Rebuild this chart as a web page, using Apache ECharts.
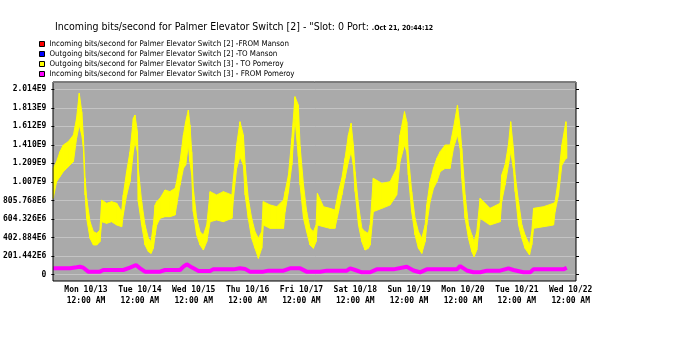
<!DOCTYPE html>
<html><head><meta charset="utf-8">
<script src="https://cdn.jsdelivr.net/npm/echarts@6/dist/echarts.min.js"></script>
<style>html,body{margin:0;padding:0;background:#fff}#c{width:686px;height:363px}</style>
</head><body><div id="c"></div>
<script>
// ---- text ----
const titleText = 'Incoming bits/second for Palmer Elevator Switch [2] - "Slot: 0 Port: ';
const titleDate = '.Oct 21, 20:44:12';
const seriesNames = [
  'Incoming bits/second for Palmer Elevator Switch [2] -FROM Manson',
  'Outgoing bits/second for Palmer Elevator Switch [2] -TO Manson',
  'Outgoing bits/second for Palmer Elevator Switch [3] - TO Pomeroy',
  'Incoming bits/second for Palmer Elevator Switch [3] - FROM Pomeroy'
];
const seriesColors = ['#ff0000', '#0000ff', '#ffff00', '#ff00ff'];

// ---- axes (values in millions of bits/second, x in hours from Mon 10/13 00:00) ----
const yTickStep = 201.442;
const yTickMax = 2014.42;
const yTickLabels = ['0', '201.442E6', '402.884E6', '604.326E6', '805.768E6', '1.007E9', '1.209E9', '1.410E9', '1.612E9', '1.813E9', '2.014E9'];
const xTickStepHours = 24;
const xTickMaxHours = 216;
const xTickLabels = ['Mon 10/13\n12:00 AM', 'Tue 10/14\n12:00 AM', 'Wed 10/15\n12:00 AM', 'Thu 10/16\n12:00 AM', 'Fri 10/17\n12:00 AM', 'Sat 10/18\n12:00 AM', 'Sun 10/19\n12:00 AM', 'Mon 10/20\n12:00 AM', 'Tue 10/21\n12:00 AM', 'Wed 10/22\n12:00 AM'];
const xViewMin = -14.7, xViewMax = 218.3;
const yViewMin = -69.6, yViewMax = 2093.8;

// ---- Outgoing [3] TO Pomeroy: envelope of the noisy trace ----
const pomeroyOutHours = [-14.6, -13.1, -11.6, -10.1, -7.9, -5.6, -4.2, -3.0, -1.9, -1.2,
  -0.4, 0.3, 1.8, 3.3, 4.8, 6.2, 7.0, 9.2, 11.4, 13.7,
  15.9, 16.6, 18.1, 19.6, 21.1, 21.8, 22.9, 23.3, 24.8, 26.3,
  27.8, 29.0, 30.0, 30.8, 31.5, 33.0, 35.2, 37.4, 39.7, 40.4,
  41.9, 43.4, 44.4, 45.6, 46.3, 47.1, 47.8, 49.3, 50.8, 52.3,
  53.8, 55.3, 58.2, 61.2, 65.0, 65.7, 67.1, 68.6, 70.1, 70.9,
  72.3, 73.8, 75.3, 76.8, 78.3, 79.0, 82.0, 85.0, 88.0, 88.7,
  90.2, 91.7, 93.1, 94.6, 95.4, 96.9, 98.3, 99.8, 101.3, 102.5,
  103.1, 105.8, 108.7, 110.9, 112.5, 114.0, 115.4, 116.9, 118.1, 119.1,
  119.9, 121.4, 122.9, 124.3, 125.8, 126.6, 128.0, 131.8, 135.5, 138.4,
  139.9, 141.9, 142.9, 143.6, 145.1, 146.6, 148.1, 149.6, 151.1, 151.8,
  153.3, 154.8, 156.3, 157.8, 160.0, 162.2, 163.7, 165.5, 166.7, 167.4,
  168.9, 170.4, 171.9, 172.9, 174.1, 175.6, 180.0, 184.5, 185.2, 186.7,
  188.2, 189.2, 190.4, 191.2, 192.7, 194.2, 195.6, 197.6, 198.6, 199.4,
  203.8, 208.3, 209.0, 210.5, 212.0, 213.8, 214.2];
const pomeroyOutHigh = [1155, 1228, 1336, 1409, 1445, 1518, 1699, 1971, 1771, 1518,
  1047, 829, 575, 467, 449, 485, 811, 775, 793, 775,
  684, 865, 1119, 1336, 1699, 1735, 1554, 1155, 793, 539,
  394, 358, 539, 757, 793, 829, 920, 902, 938, 1010,
  1228, 1518, 1662, 1789, 1626, 1336, 938, 612, 467, 430,
  539, 902, 865, 902, 865, 1047, 1409, 1662, 1518, 1191,
  829, 612, 467, 394, 467, 793, 757, 738, 811, 902,
  1083, 1481, 1934, 1843, 1391, 974, 684, 503, 467, 539,
  883, 738, 720, 702, 902, 1047, 1264, 1518, 1644, 1409,
  1119, 757, 503, 467, 449, 539, 1047, 992, 1010, 1155,
  1518, 1771, 1662, 1300, 902, 612, 467, 394, 539, 757,
  1010, 1155, 1264, 1336, 1409, 1409, 1590, 1843, 1590, 1373,
  865, 539, 430, 358, 467, 829, 720, 775, 1083, 1191,
  1409, 1662, 1373, 1083, 793, 539, 430, 322, 467, 720,
  738, 775, 793, 1047, 1409, 1662, 1445];
const pomeroyOutLow = [829, 1010, 1065, 1119, 1173, 1228, 1481, 1626, 1518, 1391,
  865, 612, 394, 322, 322, 358, 575, 557, 575, 539,
  521, 648, 865, 1010, 1336, 1445, 1336, 793, 539, 322,
  249, 231, 286, 430, 539, 612, 630, 630, 648, 757,
  974, 1155, 1191, 1409, 1228, 1083, 684, 430, 322, 267,
  358, 575, 594, 575, 612, 829, 1155, 1282, 1191, 865,
  612, 394, 286, 177, 286, 539, 503, 503, 503, 684,
  902, 1191, 1699, 1282, 974, 612, 467, 322, 286, 358,
  539, 521, 503, 503, 684, 865, 1047, 1228, 1336, 1191,
  902, 539, 358, 267, 286, 322, 684, 720, 757, 865,
  1228, 1409, 1336, 1083, 684, 430, 286, 231, 358, 539,
  793, 938, 1010, 1119, 1155, 1155, 1373, 1518, 1373, 1047,
  612, 394, 249, 195, 267, 612, 539, 575, 793, 974,
  1191, 1336, 1155, 902, 539, 394, 286, 213, 322, 503,
  521, 539, 684, 865, 1191, 1264, 1264];

// ---- Incoming [3] FROM Pomeroy ----
const pomeroyInHours = [-14.6, -10.1, -7.1, -4.2, -2.7, -1.2, 1.0, 6.2, 7.7, 16.6,
  19.6, 22.3, 24.1, 26.3, 33.0, 35.2, 41.9, 43.4, 44.9, 47.1,
  50.1, 55.3, 56.7, 65.7, 68.6, 70.9, 73.1, 79.0, 81.3, 88.0,
  90.9, 95.4, 98.3, 104.3, 107.3, 116.2, 117.7, 119.9, 122.9, 126.6,
  129.5, 137.0, 142.9, 145.9, 148.8, 151.8, 165.2, 166.7, 169.6, 172.6,
  175.6, 178.6, 184.5, 188.2, 190.4, 194.9, 197.9, 199.4, 212.7, 214.2];
const pomeroyInValues = [68, 68, 68, 79, 86, 75, 32, 32, 50, 50,
  75, 104, 68, 32, 32, 50, 50, 86, 112, 79,
  39, 39, 57, 57, 68, 60, 32, 32, 43, 43,
  68, 68, 32, 32, 43, 43, 68, 50, 25, 25,
  57, 57, 86, 45, 25, 57, 57, 93, 45, 25,
  25, 43, 43, 68, 50, 25, 25, 57, 57, 75];

// Manson series: no visible data in the graph
const mansonInValues = [];
const mansonOutValues = [];

// ---- build ----
const monoFont = 'DejaVu Sans Mono';
const condFont = '"DejaVu Sans Condensed", "DejaVu Sans", sans-serif';
const bandData = pomeroyOutHours.map((h, i) => [h, pomeroyOutLow[i], pomeroyOutHigh[i]]);
const inLine = pomeroyInHours.map((h, i) => [h, pomeroyInValues[i]]);

function renderBand(params, api) {
  const i = params.dataIndex;
  if (i >= bandData.length - 1) return null;
  const a = bandData[i], b = bandData[i + 1];
  const pts = [
    api.coord([a[0], a[2]]), api.coord([b[0], b[2]]),
    api.coord([b[0], b[1]]), api.coord([a[0], a[1]])
  ];
  return {
    type: 'polygon',
    shape: { points: pts },
    style: { fill: seriesColors[2], stroke: seriesColors[2], lineWidth: 1 }
  };
}

const plot = { left: 53, right: 110, top: 82, bottom: 82 };
const chart = echarts.init(document.getElementById('c'), null, { renderer: 'canvas' });
chart.setOption({
  animation: false,
  backgroundColor: '#ffffff',
  title: {
    left: 55, top: 22, padding: 0,
    text: '{a|' + titleText + '}{b|' + titleDate + '}',
    textStyle: {
      fontWeight: 'normal',
      rich: {
        a: { fontFamily: condFont, fontSize: 10.5, fontWeight: 'normal', color: '#000' },
        b: { fontFamily: condFont, fontSize: 7, fontWeight: 'bold', color: '#000', padding: [2, 0, 0, 0] }
      }
    }
  },
  legend: {
    orient: 'vertical', left: 39, top: 39, padding: 0, itemGap: 0,
    itemWidth: 5, itemHeight: 5, icon: 'rect',
    itemStyle: { borderColor: '#000', borderWidth: 1 },
    textStyle: { fontFamily: condFont, fontSize: 7.9, color: '#000', lineHeight: 10 },
    data: seriesNames.map((n, i) => ({ name: n, itemStyle: { color: seriesColors[i] } }))
  },
  grid: [
    Object.assign({ show: true, backgroundColor: '#aaaaaa', borderWidth: 0, z: -1 }, plot),
    { left: 53, right: 110, top: 89.3, bottom: 88.4 },
    { left: 86, right: 115.3, top: 82, bottom: 82 },
    Object.assign({ show: true, backgroundColor: 'transparent', borderColor: '#000', borderWidth: 1, z: 5 }, plot)
  ],
  xAxis: [
    { gridIndex: 0, type: 'value', min: xViewMin, max: xViewMax, show: false },
    { gridIndex: 1, type: 'value', show: false },
    { gridIndex: 2, type: 'value', min: 0, max: xTickMaxHours, interval: xTickStepHours, position: 'bottom',
      axisLine: { show: false }, axisTick: { show: false }, splitLine: { show: false },
      axisLabel: { show: true, margin: 3, fontFamily: monoFont, fontSize: 8, fontWeight: 'bold', color: '#000', lineHeight: 11,
        formatter: (v) => xTickLabels[Math.round(v / xTickStepHours)] } },
    { gridIndex: 3, type: 'value', position: 'top', min: 0, max: 1, z: 6,
      axisLine: { show: true, onZero: false, lineStyle: { color: '#7a7a7a', width: 1 } },
      axisTick: { show: false }, axisLabel: { show: false }, splitLine: { show: false } }
  ],
  yAxis: [
    { gridIndex: 0, type: 'value', min: yViewMin, max: yViewMax, show: false },
    { gridIndex: 1, type: 'value', min: 0, max: yTickMax, interval: yTickStep, position: 'left',
      axisLine: { show: false },
      axisTick: { show: true, inside: false, length: 3, lineStyle: { color: '#000' } },
      splitLine: { show: true, lineStyle: { color: '#c4c4c4', width: 1 } },
      axisLabel: { margin: 8, fontFamily: monoFont, fontSize: 8, fontWeight: 'bold', color: '#000',
        formatter: (v) => yTickLabels[Math.round(v / yTickStep)] } },
    { gridIndex: 1, type: 'value', min: 0, max: yTickMax, interval: yTickStep, position: 'right',
      axisLine: { show: false }, axisLabel: { show: false }, splitLine: { show: false },
      axisTick: { show: true, inside: false, length: 3, lineStyle: { color: '#000' } } },
    { gridIndex: 2, type: 'value', show: false },
    { gridIndex: 3, type: 'value', show: false }
  ],
  series: [
    { name: seriesNames[0], type: 'line', xAxisIndex: 0, yAxisIndex: 0, data: mansonInValues, showSymbol: false, itemStyle: { color: seriesColors[0] } },
    { name: seriesNames[1], type: 'line', xAxisIndex: 0, yAxisIndex: 0, data: mansonOutValues, showSymbol: false, itemStyle: { color: seriesColors[1] } },
    { name: seriesNames[2], type: 'custom', xAxisIndex: 0, yAxisIndex: 0, data: bandData,
      encode: { x: 0, y: [1, 2] }, renderItem: renderBand, itemStyle: { color: seriesColors[2] }, z: 3, silent: true },
    { name: seriesNames[3], type: 'line', xAxisIndex: 0, yAxisIndex: 0, data: inLine, showSymbol: false, symbol: 'none',
      lineStyle: { color: seriesColors[3], width: 4 }, itemStyle: { color: seriesColors[3] }, z: 4 }
  ]
});
</script></body></html>
